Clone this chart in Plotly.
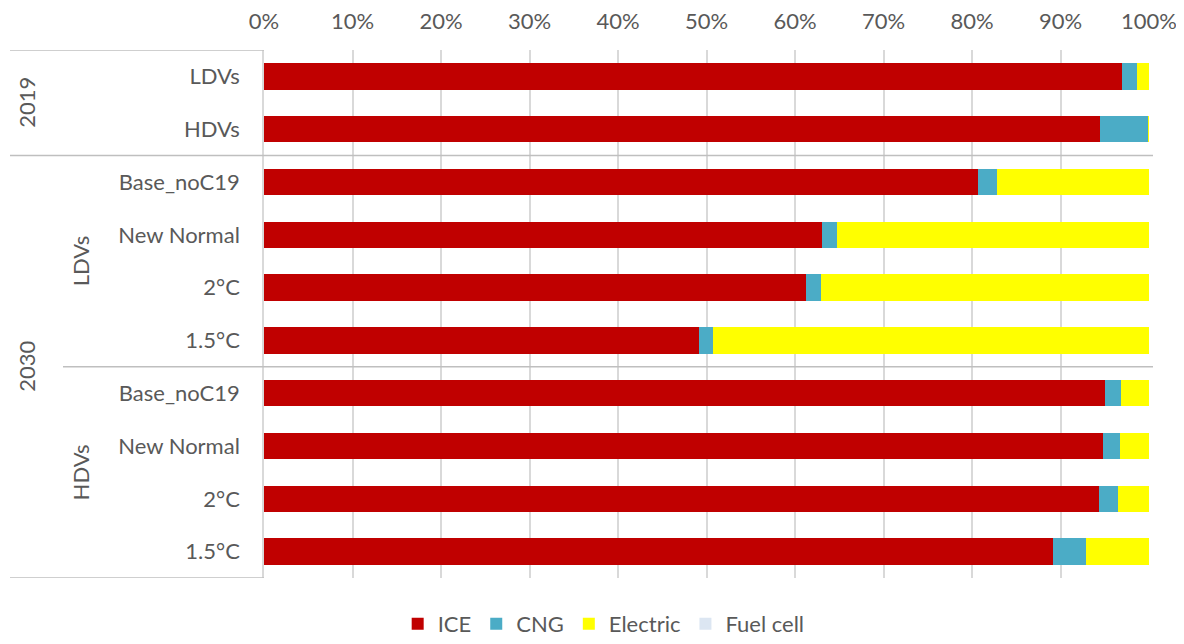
import plotly.graph_objects as go

# Rows (top to bottom)
row_labels = ["LDVs", "HDVs", "Base_noC19", "New Normal", "2°C", "1.5°C",
              "Base_noC19", "New Normal", "2°C", "1.5°C"]
year_groups = [("2019", 0, 1), ("2030", 2, 9)]
vehicle_groups = [("LDVs", 2, 5), ("HDVs", 6, 9)]

ice = [97.0, 94.5, 80.7, 63.0, 61.2, 49.1, 95.0, 94.8, 94.4, 89.2]
cng = [1.6, 5.4, 2.1, 1.7, 1.7, 1.6, 1.8, 1.9, 2.1, 3.7]
electric = [1.4, 0.1, 17.2, 35.3, 37.1, 49.3, 3.2, 3.3, 3.5, 7.1]
fuel_cell = [0, 0, 0, 0, 0, 0, 0, 0, 0, 0]

series = [("ICE", ice, "#C00000"), ("CNG", cng, "#4BACC6"),
          ("Electric", electric, "#FFFF00"), ("Fuel cell", fuel_cell, "#DCE6F2")]

ypos = list(range(len(row_labels)))
FONT = "Lato"
FS = 22
GREY = "#595959"

fig = go.Figure()
for name, vals, col in series:
    fig.add_trace(go.Bar(x=vals, y=ypos, orientation="h", name=name,
                         marker=dict(color=col, line=dict(width=0)), width=0.5))

# page has an 8px body margin; figure placed at (8, 8)
OFF = 8
W, H = 1168, 628
L, R, T, B = 264 - OFF, W - (1149 - OFF), 50 - OFF, H - (578 - OFF)
pw = W - L - R
def px2paper(px):
    return (px - OFF - L) / pw

shapes = []
line_style = dict(color="#BFBFBF", width=1.5)
shapes.append(dict(type="line", xref="paper", yref="y", x0=px2paper(10), x1=0, y0=-0.5, y1=-0.5, line=line_style))
shapes.append(dict(type="line", xref="paper", yref="y", x0=px2paper(10), x1=0, y0=9.5, y1=9.5, line=line_style))
shapes.append(dict(type="line", xref="paper", yref="y", x0=px2paper(10), x1=px2paper(1153), y0=1.5, y1=1.5, line=line_style))
shapes.append(dict(type="line", xref="paper", yref="y", x0=px2paper(63), x1=px2paper(1153), y0=5.5, y1=5.5, line=line_style))

annotations = []
for lab, a, b in year_groups:
    annotations.append(dict(text=lab, xref="paper", yref="y", x=px2paper(27), y=(a + b) / 2,
                            xanchor="center", yanchor="middle",
                            textangle=-90, showarrow=False, font=dict(family=FONT, size=FS, color=GREY)))
for lab, a, b in vehicle_groups:
    annotations.append(dict(text=lab, xref="paper", yref="y", x=px2paper(80), y=(a + b) / 2,
                            xanchor="center", yanchor="middle",
                            textangle=-90, showarrow=False, font=dict(family=FONT, size=FS, color=GREY)))

fig.update_layout(
    barmode="stack",
    width=W, height=H,
    margin=dict(l=L, r=R, t=T, b=B, autoexpand=False),
    paper_bgcolor="white", plot_bgcolor="white",
    font=dict(family=FONT, size=FS, color=GREY),
    xaxis=dict(side="top", range=[0, 100], tickmode="array",
               tickvals=[0, 10, 20, 30, 40, 50, 60, 70, 80, 90, 100],
               ticktext=[f"{v}%" for v in range(0, 101, 10)],
               showgrid=True, gridcolor="#D9D9D9", gridwidth=1.5,
               zeroline=False, showline=False, ticks="", ticklabelstandoff=16,
               automargin=False, ticklabeloverflow="allow",
               tickfont=dict(family=FONT, size=FS, color=GREY), fixedrange=True),
    yaxis=dict(tickmode="array", tickvals=ypos, ticktext=row_labels,
               range=[9.5, -0.5], showgrid=False, zeroline=False,
               showline=True, linecolor="#D9D9D9", linewidth=1.5,
               ticks="", ticklabelstandoff=18, automargin=False,
               tickfont=dict(family=FONT, size=FS, color=GREY)),
    legend=dict(orientation="h", xref="container", yref="container",
                x=0.51, xanchor="center", y=(H - (624 - OFF)) / H, yanchor="middle",
                font=dict(family=FONT, size=FS, color=GREY), traceorder="normal",
                itemwidth=30, tracegroupgap=0),
    shapes=shapes,
    annotations=annotations,
)

fig.write_html("out.html")
